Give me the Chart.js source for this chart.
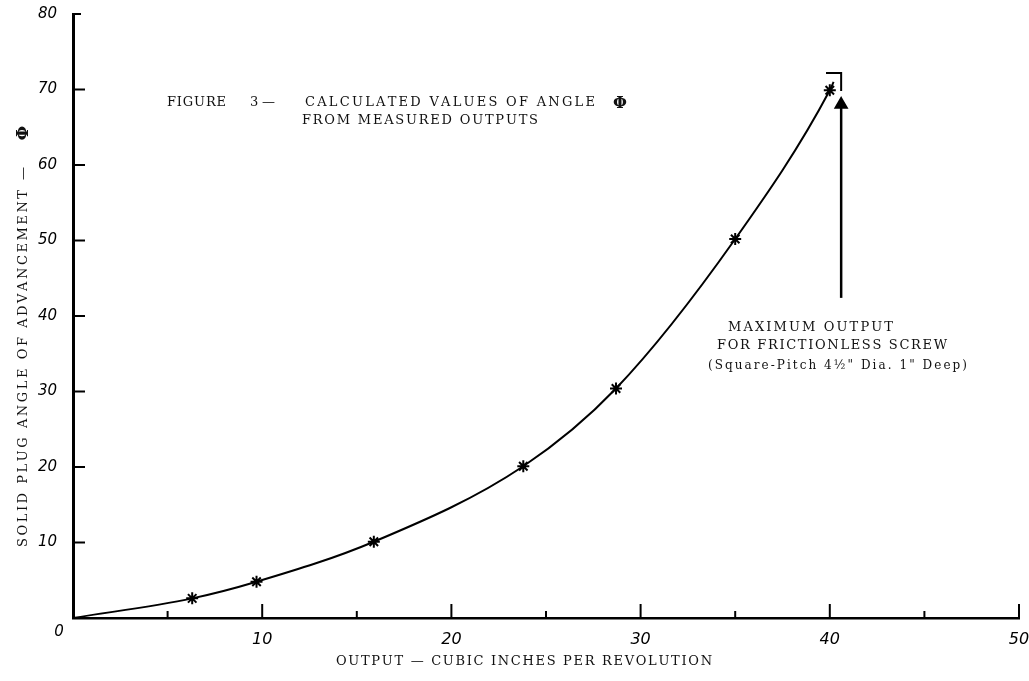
<!DOCTYPE html>
<html>
<head>
<meta charset="utf-8">
<script src="https://cdn.jsdelivr.net/npm/chart.js@4"></script>
<style>
  html, body { margin: 0; padding: 0; background: #fff; }
  #wrap { width: 1029px; height: 681px; }
</style>
</head>
<body>
<div id="wrap"><canvas id="grafica"></canvas></div>
<script>
// datos
const salida = [6.3, 9.7, 15.9, 23.8, 28.7, 35.0, 40.0];      // pulg^3 por revolucion
const angulo = [2.6, 4.8, 10.1, 20.1, 30.4, 50.2, 69.9];       // phi
// curva dibujada a mano
const curvaX = [0, 6.3, 9.7, 15.9, 23.8, 28.7, 35.0, 40.0, 40.2];
const curvaY = [0, 2.6, 4.8, 10.1, 20.1, 30.4, 50.2, 69.9, 71.0];
// salida maxima (tornillo sin friccion)
const maxX = 40.6;
const corcheteY = [72.2, 69.8];
const flechaY = [42.4, 68.0];

const ticksX = [0, 10, 20, 30, 40, 50];
const ticksY = [0, 10, 20, 30, 40, 50, 60, 70, 80];

const txtFont = "13px 'DejaVu Serif'";
const numFont = "italic 15px 'DejaVu Sans'";

// texto espaciado entre x0 y x1
function espaciado(ctx, texto, x0, x1, y) {
  const chars = [...texto];
  const ws = chars.map(c => ctx.measureText(c).width);
  const total = ws.reduce((a, b) => a + b, 0);
  const gap = chars.length > 1 ? ((x1 - x0) - total) / (chars.length - 1) : 0;
  let x = x0;
  chars.forEach((c, i) => { ctx.fillText(c, x, y); x += ws[i] + gap; });
}

const fondo = {
  id: "fondo",
  beforeDraw(chart) {
    const ctx = chart.ctx;
    ctx.save();
    ctx.fillStyle = "#fff";
    ctx.fillRect(0, 0, chart.width, chart.height);
    ctx.restore();
  }
};

const marcas = {
  id: "marcas",
  afterDraw(chart) {
    const ctx = chart.ctx;
    const sx = chart.scales.x, sy = chart.scales.y;
    const x0 = sx.getPixelForValue(0), y0 = sy.getPixelForValue(0);
    ctx.save();
    ctx.strokeStyle = "#000";
    ctx.lineWidth = 2;
    // marcas del eje x hacia adentro
    for (let v = 5; v <= 50; v += 5) {
      const px = sx.getPixelForValue(v);
      const len = v % 10 === 0 ? 14 : 7;
      ctx.beginPath();
      ctx.moveTo(px, y0);
      ctx.lineTo(px, y0 - len);
      ctx.stroke();
    }
    // marcas del eje y
    for (let v = 10; v <= 80; v += 10) {
      const py = sy.getPixelForValue(v);
      ctx.beginPath();
      ctx.moveTo(x0, py);
      ctx.lineTo(x0 + (v === 80 ? 8 : 12), py);
      ctx.stroke();
    }
    // origen: un solo "0"
    ctx.fillStyle = "#000";
    ctx.font = numFont;
    ctx.textAlign = "center";
    ctx.textBaseline = "middle";
    ctx.fillText("0", x0 - 14, y0 + 14);
    ctx.restore();

    // textos
    ctx.save();
    ctx.fillStyle = "#111";
    ctx.font = txtFont;
    ctx.textBaseline = "middle";
    espaciado(ctx, "FIGURE", 167, 226, 103);
    espaciado(ctx, "3", 250, 258, 103);
    espaciado(ctx, "\u2014", 262, 278, 103);
    espaciado(ctx, "CALCULATED VALUES OF ANGLE", 305, 595, 103);
    espaciado(ctx, "FROM MEASURED OUTPUTS", 302, 538, 121);
    ctx.font = "bold 16px 'DejaVu Serif'";
    ctx.fillText("\u03A6", 613, 104);

    ctx.font = txtFont;
    espaciado(ctx, "MAXIMUM OUTPUT", 728, 893, 328);
    espaciado(ctx, "FOR FRICTIONLESS SCREW", 717, 947, 346);
    ctx.font = "12px 'DejaVu Serif'";
    espaciado(ctx, "(Square-Pitch 4\u00BD\" Dia. 1\" Deep)", 708, 967, 366);

    ctx.font = txtFont;
    espaciado(ctx, "OUTPUT \u2014 CUBIC INCHES PER REVOLUTION", 336, 712, 662);

    // titulo eje y (girado)
    ctx.translate(24, 547);
    ctx.rotate(-Math.PI / 2);
    espaciado(ctx, "SOLID PLUG ANGLE OF ADVANCEMENT", 0, 357, 0);
    espaciado(ctx, "\u2014", 367, 392, 0);
    ctx.font = "bold 17px 'DejaVu Serif'";
    ctx.textAlign = "center";
    ctx.fillText("\u03A6", 414, 0);
    ctx.restore();
  }
};

new Chart(document.getElementById("grafica"), {
  type: "scatter",
  data: {
    datasets: [
      {
        label: "curva",
        data: curvaX.map((x, i) => ({ x: x, y: curvaY[i] })),
        showLine: true,
        borderColor: "#000",
        borderWidth: 2,
        pointRadius: 0,
        cubicInterpolationMode: "monotone",
      },
      {
        label: "medidos",
        data: salida.map((x, i) => ({ x: x, y: angulo[i] })),
        pointStyle: "star",
        pointRadius: 6,
        borderColor: "#000",
        borderWidth: 2,
        backgroundColor: "#000",
      },
      {
        label: "corchete",
        data: [{ x: 39.8, y: corcheteY[0] }, { x: maxX, y: corcheteY[0] }, { x: maxX, y: corcheteY[1] }],
        showLine: true,
        borderColor: "#000",
        borderWidth: 2,
        pointRadius: 0,
      },
      {
        label: "flecha",
        data: [{ x: maxX, y: flechaY[0] }, { x: maxX, y: flechaY[1] }],
        showLine: true,
        borderColor: "#000",
        backgroundColor: "#000",
        borderWidth: 2.5,
        pointStyle: "triangle",
        pointRadius: [0, 6],
      },
    ],
  },
  options: {
    responsive: true,
    maintainAspectRatio: false,
    animation: false,
    layout: { padding: { left: 0, top: 14, right: 10, bottom: 0 } },
    plugins: { legend: { display: false }, tooltip: { enabled: false } },
    scales: {
      x: {
        type: "linear",
        min: 0,
        max: 50,
        afterFit: (s) => { s.height = 63; s.paddingLeft = 0; s.paddingRight = 0; },
        afterBuildTicks: (s) => { s.ticks = ticksX.map(v => ({ value: v })); },
        grid: { display: false },
        border: { display: true, color: "#000", width: 2.5 },
        ticks: {
          color: "#000",
          padding: 4,
          callback: (v) => (v === 0 ? "" : v),
          font: { family: "'DejaVu Sans'", size: 16, style: "italic" },
        },
      },
      y: {
        type: "linear",
        min: 0,
        max: 80,
        afterFit: (s) => { s.width = 73; s.paddingTop = 0; s.paddingBottom = 0; },
        afterBuildTicks: (s) => { s.ticks = ticksY.map(v => ({ value: v })); },
        grid: { display: false },
        border: { display: true, color: "#000", width: 3 },
        ticks: {
          color: "#000",
          padding: 8,
          callback: (v) => (v === 0 ? "" : v),
          font: { family: "'DejaVu Sans'", size: 15, style: "italic" },
        },
      },
    },
  },
  plugins: [fondo, marcas],
});
</script>
</body>
</html>
